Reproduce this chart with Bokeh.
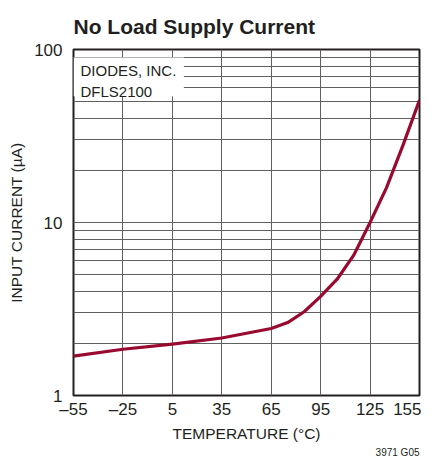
from bokeh.plotting import figure
from bokeh.models import FixedTicker, Range1d, Label, BoxAnnotation, Title
from bokeh.embed import file_html
from bokeh.resources import INLINE

# Data
temperature = [-55, -25, 5, 35, 65, 75, 85, 95, 105, 115, 125, 135, 145, 155]
current_ua = [1.69, 1.85, 1.98, 2.15, 2.44, 2.64, 3.05, 3.74, 4.7, 6.45, 10.0, 15.9, 28.0, 51.0]

x_ticks = [-55, -25, 5, 35, 65, 95, 125, 155]
x_tick_labels = {-55: "\u201355", -25: "\u201325"}
y_ticks = [1, 10, 100]
y_minor = [m * d for d in (1, 10) for m in range(2, 10)]

title_text = "No Load Supply Current"
note_lines = ["DIODES, INC.", "DFLS2100"]
note_y = [75.7, 57.5]

FONT = "Liberation Sans"
INK = "#231f20"

p = figure(width=421, height=457,
           output_backend="svg", toolbar_location=None,
           y_axis_type="log", x_range=Range1d(-55, 155), y_range=Range1d(1, 100),
           min_border_left=73, min_border_right=2, min_border_top=49, min_border_bottom=61)

p.title.text = title_text
p.title.text_font = FONT
p.title.text_font_size = "21px"
p.title.text_font_style = "bold"
p.title.text_color = INK
p.title.align = "left"
p.title.vertical_align = "top"
p.title.standoff = 20
p.title.offset = 0

p.line(temperature, current_ua, line_color="#990a30", line_width=3.2, line_join="round")

p.xaxis.ticker = FixedTicker(ticks=x_ticks)
p.xaxis.major_label_overrides = x_tick_labels
p.yaxis.ticker = FixedTicker(ticks=y_ticks, minor_ticks=y_minor)
p.yaxis.major_label_overrides = {1: "1", 10: "10", 100: "100"}

for ax in (p.xaxis[0], p.yaxis[0]):
    ax.axis_line_color = None
    ax.major_tick_line_color = None
    ax.minor_tick_line_color = None
    ax.major_tick_out = 0
    ax.major_tick_in = 0
    ax.minor_tick_out = 0
    ax.minor_tick_in = 0
    ax.major_label_text_font = FONT
    ax.major_label_text_font_size = "17px"
    ax.major_label_text_color = INK
    ax.axis_label_text_font = FONT
    ax.axis_label_text_font_size = "15.5px"
    ax.axis_label_text_font_style = "normal"
    ax.axis_label_text_color = INK

p.xaxis.axis_label = "TEMPERATURE (\u00b0C)"
p.yaxis.axis_label = "INPUT CURRENT (\u00b5A)"
p.xaxis.major_label_standoff = 4
p.yaxis.major_label_standoff = 11
p.xaxis.axis_label_standoff = 3
p.yaxis.axis_label_standoff = 6

p.xgrid.grid_line_color = "#606060"
p.xgrid.grid_line_width = 1
p.ygrid.grid_line_color = "#606060"
p.ygrid.minor_grid_line_color = "#606060"
p.ygrid.grid_line_width = 1
p.ygrid.minor_grid_line_width = 1

p.outline_line_color = INK
p.outline_line_width = 2
p.background_fill_color = "white"
p.border_fill_color = "white"

p.add_layout(BoxAnnotation(left=-55, right=12, bottom=53.6, top=90,
                           fill_color="white", fill_alpha=1, line_color=None))
for txt, yv in zip(note_lines, note_y):
    p.add_layout(Label(x=-55, y=yv, x_offset=7, text=txt, text_font=FONT,
                       text_font_size="15px", text_color=INK,
                       text_baseline="alphabetic"))

p.add_layout(Title(text="3971 G05", align="right", standoff=0, text_font=FONT,
                   text_font_size="10px", text_font_style="normal",
                   text_color=INK), "below")

open("out.html", "w").write(file_html(p, INLINE))
